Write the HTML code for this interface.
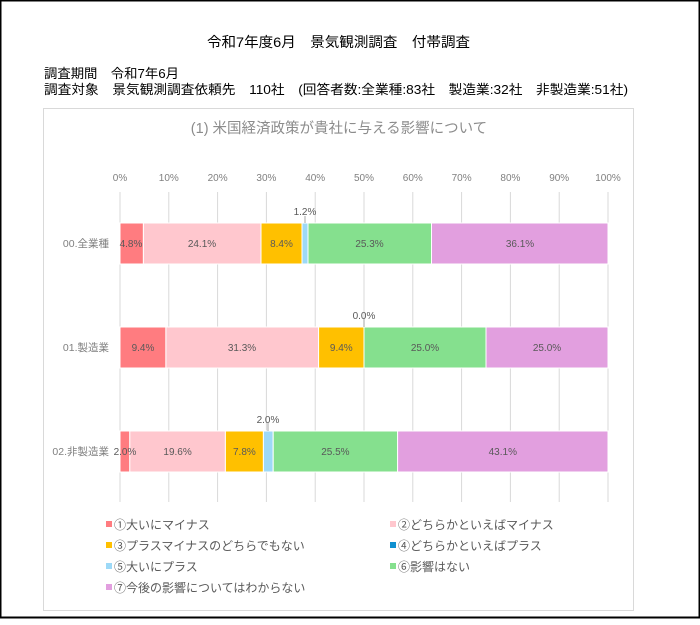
<!DOCTYPE html>
<html><head><meta charset="utf-8"><style>
body{margin:0;background:#fff;}
svg text{font-family:"Liberation Sans","Noto Sans CJK JP",sans-serif;}
</style></head><body>
<svg width="700" height="620" xmlns="http://www.w3.org/2000/svg">
<rect x="0.5" y="0.5" width="699" height="617" fill="#fff" stroke="#000" stroke-width="2"/>
<text x="207" y="47" font-size="14" fill="#000" textLength="263" lengthAdjust="spacingAndGlyphs">令和7年度6月　景気観測調査　付帯調査</text>
<text x="44" y="78" font-size="13" fill="#000" textLength="135" lengthAdjust="spacingAndGlyphs">調査期間　令和7年6月</text>
<text x="44" y="94" font-size="13" fill="#000" textLength="584" lengthAdjust="spacingAndGlyphs">調査対象　景気観測調査依頼先　110社　(回答者数:全業種:83社　製造業:32社　非製造業:51社)</text>
<rect x="43.5" y="108.5" width="590" height="502" fill="#fff" stroke="#d9d9d9"/>
<text x="339" y="133" text-anchor="middle" font-size="14.5" fill="#8c8c8c">(1) 米国経済政策が貴社に与える影響について</text>
<g font-size="10" fill="#808080" text-anchor="middle">
<text x="120" y="181">0%</text><text x="168.8" y="181">10%</text><text x="217.6" y="181">20%</text><text x="266.4" y="181">30%</text><text x="315.2" y="181">40%</text><text x="364" y="181">50%</text><text x="412.8" y="181">60%</text><text x="461.6" y="181">70%</text><text x="510.4" y="181">80%</text><text x="559.2" y="181">90%</text><text x="608" y="181">100%</text>
</g>
<g stroke="#d9d9d9">
<line x1="120" y1="192" x2="120" y2="502"/><line x1="168.8" y1="192" x2="168.8" y2="502"/><line x1="217.6" y1="192" x2="217.6" y2="502"/><line x1="266.4" y1="192" x2="266.4" y2="502"/><line x1="315.2" y1="192" x2="315.2" y2="502"/><line x1="364" y1="192" x2="364" y2="502"/><line x1="412.8" y1="192" x2="412.8" y2="502"/><line x1="461.6" y1="192" x2="461.6" y2="502"/><line x1="510.4" y1="192" x2="510.4" y2="502"/><line x1="559.2" y1="192" x2="559.2" y2="502"/><line x1="608" y1="192" x2="608" y2="502"/>
</g>
<g stroke="#fff" stroke-width="1">
<rect x="120" y="223" width="23.4" height="41" fill="#ff7c80"/>
<rect x="143.4" y="223" width="117.6" height="41" fill="#ffc7ce"/>
<rect x="261" y="223" width="41" height="41" fill="#ffc000"/>
<rect x="302" y="223" width="6" height="41" fill="#9dd9f7"/>
<rect x="308" y="223" width="123.5" height="41" fill="#85e08e"/>
<rect x="431.5" y="223" width="176.5" height="41" fill="#e29fdf"/>
<rect x="120" y="327" width="45.9" height="41" fill="#ff7c80"/>
<rect x="165.9" y="327" width="152.7" height="41" fill="#ffc7ce"/>
<rect x="318.6" y="327" width="45.4" height="41" fill="#ffc000"/>
<rect x="364" y="327" width="122" height="41" fill="#85e08e"/>
<rect x="486" y="327" width="122" height="41" fill="#e29fdf"/>
<rect x="120" y="431" width="9.8" height="41" fill="#ff7c80"/>
<rect x="129.8" y="431" width="95.6" height="41" fill="#ffc7ce"/>
<rect x="225.4" y="431" width="38" height="41" fill="#ffc000"/>
<rect x="263.4" y="431" width="9.8" height="41" fill="#9dd9f7"/>
<rect x="273.2" y="431" width="124.4" height="41" fill="#85e08e"/>
<rect x="397.6" y="431" width="210.4" height="41" fill="#e29fdf"/>
</g>
<g stroke="#a6a6a6"><line x1="305" y1="216" x2="305" y2="223"/><line x1="364" y1="319" x2="364" y2="327"/><line x1="268" y1="423" x2="268" y2="431"/></g>
<g font-size="10" fill="#595959" text-anchor="middle">
<text x="305" y="215">1.2%</text><text x="364" y="319">0.0%</text><text x="268" y="423">2.0%</text>
<text x="131" y="247">4.8%</text><text x="202" y="247">24.1%</text><text x="281.5" y="247">8.4%</text><text x="369.5" y="247">25.3%</text><text x="520" y="247">36.1%</text>
<text x="143" y="351">9.4%</text><text x="242" y="351">31.3%</text><text x="341.3" y="351">9.4%</text><text x="425" y="351">25.0%</text><text x="547" y="351">25.0%</text>
<text x="125" y="455">2.0%</text><text x="177.6" y="455">19.6%</text><text x="244.4" y="455">7.8%</text><text x="335.4" y="455">25.5%</text><text x="502.8" y="455">43.1%</text>
</g>
<g font-size="10.5" fill="#808080" text-anchor="end">
<text x="109" y="247">00.全業種</text><text x="109" y="351">01.製造業</text><text x="109" y="455">02.非製造業</text>
</g>
<g font-size="12" fill="#595959">
<rect x="106" y="521" width="6" height="6" fill="#ff7c80"/><text x="114" y="529">①大いにマイナス</text>
<rect x="390" y="521" width="6" height="6" fill="#ffc7ce"/><text x="398" y="529">②どちらかといえばマイナス</text>
<rect x="106" y="542" width="6" height="6" fill="#ffc000"/><text x="114" y="550">③プラスマイナスのどちらでもない</text>
<rect x="390" y="542" width="6" height="6" fill="#0f90d0"/><text x="398" y="550">④どちらかといえばプラス</text>
<rect x="106" y="563" width="6" height="6" fill="#9dd9f7"/><text x="114" y="571">⑤大いにプラス</text>
<rect x="390" y="563" width="6" height="6" fill="#85e08e"/><text x="398" y="571">⑥影響はない</text>
<rect x="106" y="584" width="6" height="6" fill="#e29fdf"/><text x="114" y="592">⑦今後の影響についてはわからない</text>
</g>
</svg>
</body></html>
